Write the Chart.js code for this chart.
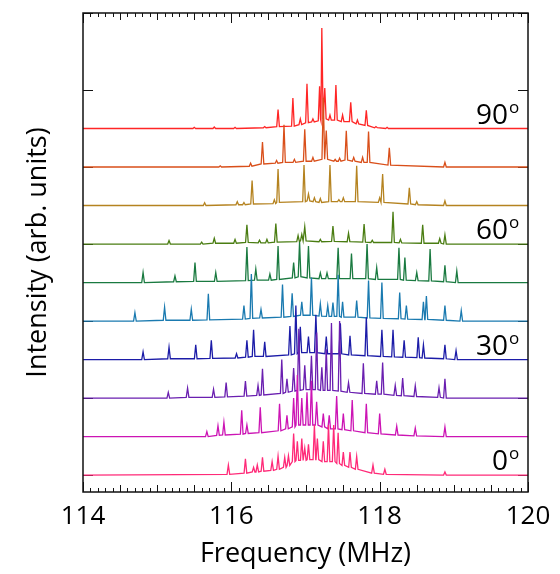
<!DOCTYPE html>
<html>
<head>
<meta charset="utf-8">
<script src="https://cdn.jsdelivr.net/npm/chart.js@4/dist/chart.umd.min.js"></script>
<style>
  html, body { margin: 0; padding: 0; background: #fff; }
  #wrap { width: 560px; height: 574px; }
</style>
</head>
<body>
<div id="wrap"><canvas id="spectra" width="560" height="574"></canvas></div>
<script>
// peaks: [frequency MHz, peak height, foot level] (in trace offsets)
const peaks0 = [[115.96,0.26,0.02],[116.19,0.42,0.05],[116.30,0.20,0.08],[116.35,0.26,0.08],[116.42,0.46,0.10],[116.55,0.35,0.12],[116.63,0.49,0.15],[116.72,0.46,0.20],[116.77,0.50,0.25],[116.84,1.08,0.35],[116.89,0.88,0.38],[116.95,0.95,0.38],[116.99,0.70,0.38],[117.04,0.80,0.40],[117.12,1.30,0.40],[117.16,0.95,0.40],[117.24,0.88,0.35],[117.31,1.30,0.35],[117.38,1.30,0.35],[117.44,1.10,0.30],[117.51,0.60,0.25],[117.60,0.60,0.20],[117.69,0.48,0.15],[117.91,0.26,0.05],[118.07,0.15,0.02],[118.88,0.08,0]];
const peaks10 = [[115.67,0.13,0],[115.82,0.28,0.03],[115.90,0.37,0.04],[116.14,0.68,0.06],[116.21,0.30,0.08],[116.39,0.76,0.10],[116.65,0.85,0.15],[116.75,0.55,0.20],[116.84,1.00,0.25],[116.89,1.60,0.30],[116.95,1.00,0.30],[117.02,1.15,0.30],[117.08,1.45,0.30],[117.15,0.90,0.30],[117.24,0.60,0.25],[117.32,0.55,0.20],[117.42,1.05,0.20],[117.51,0.60,0.18],[117.63,0.95,0.15],[117.82,0.85,0.10],[118.00,0.60,0.07],[118.23,0.27,0.04],[118.48,0.22,0.02],[118.88,0.25,0]];
const peaks20 = [[115.15,0.15,0],[115.41,0.26,0.02],[115.76,0.23,0.02],[115.93,0.40,0.03],[116.19,0.44,0.05],[116.36,0.33,0.07],[116.42,0.76,0.08],[116.68,1.00,0.12],[116.75,0.50,0.15],[116.84,0.78,0.18],[116.91,1.80,0.20],[116.99,0.85,0.22],[117.08,1.10,0.22],[117.15,1.70,0.22],[117.22,0.80,0.20],[117.28,1.27,0.20],[117.35,1.95,0.20],[117.46,2.00,0.18],[117.58,0.40,0.15],[117.78,0.90,0.12],[117.96,0.45,0.10],[118.04,0.92,0.10],[118.21,0.33,0.07],[118.31,0.52,0.06],[118.48,0.32,0.04],[118.80,0.27,0.02],[118.88,0.50,0]];
const peaks30 = [[114.81,0.20,0],[115.16,0.32,0.02],[115.52,0.38,0.02],[115.73,0.50,0.03],[116.07,0.15,0.04],[116.21,0.50,0.06],[116.30,0.77,0.08],[116.45,0.46,0.08],[116.79,0.87,0.12],[116.87,1.40,0.15],[116.93,0.85,0.18],[117.04,0.60,0.18],[117.14,1.16,0.18],[117.28,0.60,0.15],[117.47,0.94,0.15],[117.60,0.62,0.12],[117.82,1.10,0.10],[118.03,0.77,0.08],[118.18,0.77,0.07],[118.33,0.50,0.06],[118.52,0.58,0.05],[118.59,0.38,0.04],[118.88,0.38,0.02],[119.03,0.23,0]];
const peaks40 = [[114.70,0.22,0],[115.10,0.36,0.02],[115.46,0.31,0.02],[115.69,0.71,0.03],[116.17,0.40,0.05],[116.27,1.22,0.07],[116.40,0.30,0.08],[116.69,0.95,0.10],[116.82,0.72,0.12],[116.95,0.50,0.15],[117.08,1.13,0.15],[117.20,0.45,0.13],[117.30,0.40,0.12],[117.37,0.48,0.12],[117.44,1.20,0.12],[117.50,0.50,0.10],[117.69,0.53,0.10],[117.85,1.05,0.08],[118.03,1.00,0.07],[118.27,0.74,0.06],[118.36,0.40,0.05],[118.59,0.50,0.04],[118.63,0.65,0.04],[118.88,0.40,0.02],[119.10,0.27,0]];
const peaks50 = [[114.81,0.26,0],[115.24,0.17,0.02],[115.51,0.52,0.03],[115.79,0.26,0.03],[116.21,0.92,0.05],[116.33,0.35,0.06],[116.52,0.22,0.06],[116.63,0.95,0.08],[116.84,0.52,0.12],[116.92,1.05,0.15],[117.04,0.95,0.12],[117.20,0.25,0.10],[117.29,0.25,0.10],[117.44,0.90,0.10],[117.62,0.75,0.10],[117.83,1.00,0.10],[117.96,0.39,0.08],[118.26,0.90,0.08],[118.34,0.65,0.06],[118.50,0.26,0.05],[118.68,0.87,0.04],[118.88,0.45,0.02],[119.04,0.30,0]];
const peaks60 = [[115.16,0.09,0],[115.60,0.05,0],[115.77,0.15,0.02],[116.05,0.12,0.02],[116.21,0.50,0.04],[116.38,0.10,0.03],[116.48,0.12,0.03],[116.60,0.53,0.05],[116.90,0.22,0.06],[116.95,0.25,0.08],[116.99,0.45,0.08],[117.20,0.12,0.06],[117.37,0.47,0.07],[117.58,0.28,0.06],[117.79,0.52,0.05],[117.90,0.10,0.04],[118.18,0.84,0.04],[118.28,0.12,0.03],[118.58,0.50,0.02],[118.81,0.14,0.02],[118.88,0.24,0]];
const peaks70 = [[115.64,0.07,0],[116.08,0.10,0.02],[116.17,0.08,0.02],[116.28,0.65,0.04],[116.58,0.15,0.05],[116.63,0.95,0.08],[116.98,1.05,0.10],[117.04,0.30,0.12],[117.12,0.20,0.10],[117.20,0.18,0.08],[117.33,1.05,0.10],[117.45,0.15,0.10],[117.51,0.20,0.10],[117.69,1.03,0.10],[118.00,0.20,0.08],[118.04,0.82,0.08],[118.40,0.46,0.04],[118.50,0.10,0.02],[118.88,0.12,0]];
const peaks80 = [[115.85,0.03,0],[116.26,0.10,0.02],[116.42,0.65,0.08],[116.61,0.17,0.10],[116.71,1.10,0.12],[116.85,0.20,0.12],[116.99,0.98,0.15],[117.10,0.25,0.15],[117.24,1.80,0.20],[117.28,0.95,0.20],[117.40,0.20,0.15],[117.46,0.23,0.15],[117.55,0.94,0.18],[117.65,0.25,0.15],[117.77,0.25,0.12],[117.85,0.92,0.12],[118.13,0.50,0.05],[118.88,0.12,0]];
const peaks90 = [[115.50,0.03,0],[115.77,0.04,0],[116.05,0.03,0],[116.45,0.05,0.02],[116.63,0.49,0.05],[116.83,0.79,0.06],[116.93,0.25,0.10],[117.02,1.16,0.15],[117.10,0.25,0.17],[117.19,1.10,0.20],[117.22,2.61,0.25],[117.26,1.05,0.25],[117.33,0.35,0.22],[117.41,1.13,0.22],[117.50,0.35,0.18],[117.61,0.68,0.18],[117.70,0.22,0.12],[117.82,0.47,0.08],[117.95,0.05,0.02],[118.10,0.03,0]];

const traces = [peaks0, peaks10, peaks20, peaks30, peaks40, peaks50, peaks60, peaks70, peaks80, peaks90];
const traceColors = ['#ff2a78', '#cc14b4', '#6a1fb0', '#1c1ca8', '#1a7ab0', '#1a7a40', '#4a7d12', '#b58320', '#d94f1a', '#ff2626'];
const angleLabels = ['0', '30', '60', '90'];
const angleTrace = [0, 3, 6, 9];
const xTicks = [114, 116, 118, 120];

const spikeHalfWidth = 0.018;

function buildTrace(peaks, offset) {
  const pts = [{x: 114, y: offset}];
  peaks.forEach(([f, h, foot]) => {
    pts.push({x: f - spikeHalfWidth, y: offset + foot});
    pts.push({x: f, y: offset + h});
    pts.push({x: f + spikeHalfWidth, y: offset + foot});
  });
  pts.push({x: 120, y: offset});
  pts.sort((a, b) => a.x - b.x);
  return pts;
}

const datasets = traces.map((p, i) => ({
  data: buildTrace(p, i),
  borderColor: traceColors[i],
  borderWidth: 1.3,
  pointRadius: 0,
  tension: 0,
  fill: false
}));

const FONT = '"Open Sans", "DejaVu Sans", sans-serif';

// frame, inside ticks and angle labels
const frameTicks = {
  id: 'frameTicks',
  beforeDatasetsDraw(chart) {
    const {ctx, chartArea: a, scales: {x, y}} = chart;
    ctx.save();
    ctx.strokeStyle = '#111';
    ctx.lineWidth = 1;
    ctx.beginPath();
    for (let k = 0; k <= 60; k++) {
      const px = Math.round(x.getPixelForValue(114 + k * 0.1)) + 0.5;
      const len = (k % 20 === 0) ? 10 : (k % 5 === 0 ? 7 : 4);
      ctx.moveTo(px, a.top); ctx.lineTo(px, a.top + len);
      ctx.moveTo(px, a.bottom); ctx.lineTo(px, a.bottom - len);
    }
    for (let v = 0; v <= 12; v += 2) {
      const py = Math.round(y.getPixelForValue(v)) + 0.5;
      ctx.moveTo(a.left, py); ctx.lineTo(a.left + 10, py);
      ctx.moveTo(a.right, py); ctx.lineTo(a.right - 10, py);
    }
    ctx.stroke();
    ctx.restore();
  },
  afterDatasetsDraw(chart) {
    const {ctx, chartArea: a, scales: {x, y}} = chart;
    ctx.save();
    ctx.strokeStyle = '#111';
    ctx.lineWidth = 1.5;
    ctx.strokeRect(a.left, a.top, a.right - a.left, a.bottom - a.top);
    ctx.fillStyle = '#000';
    angleLabels.forEach((t, k) => {
      const px = x.getPixelForValue(119.73);
      const py = y.getPixelForValue(angleTrace[k] + 0.12);
      ctx.font = '28px ' + FONT;
      ctx.textAlign = 'right';
      ctx.textBaseline = 'alphabetic';
      ctx.fillText(t, px, py);
      ctx.font = '17px ' + FONT;
      ctx.textAlign = 'left';
      ctx.fillText('o', px + 1, py - 11);
    });
    ctx.restore();
  }
};

new Chart(document.getElementById('spectra').getContext('2d'), {
  type: 'line',
  data: {datasets: datasets},
  plugins: [frameTicks],
  options: {
    responsive: false,
    animation: false,
    devicePixelRatio: 1,
    layout: {padding: {top: 13, right: 32, left: 0, bottom: 0}},
    plugins: {legend: {display: false}, tooltip: {enabled: false}},
    scales: {
      x: {
        type: 'linear',
        min: 114,
        max: 120,
        afterBuildTicks: (s) => { s.ticks = xTicks.map(v => ({value: v})); },
        afterFit: (s) => { s.height = 82; },
        grid: {drawOnChartArea: false, drawTicks: false},
        border: {display: false},
        ticks: {color: '#000', font: {size: 26, family: FONT}, padding: 9, maxRotation: 0},
        title: {display: true, text: 'Frequency (MHz)', color: '#000', font: {size: 27, family: FONT}, padding: {top: 0, bottom: 3}}
      },
      y: {
        min: -0.44,
        max: 12,
        afterFit: (s) => { s.width = 83; },
        grid: {drawOnChartArea: false, drawTicks: false},
        border: {display: false},
        ticks: {display: false},
        title: {display: true, text: 'Intensity (arb. units)', color: '#000', font: {size: 27, family: FONT}, padding: {top: 22, bottom: 0}}
      }
    }
  }
});
</script>
</body>
</html>
